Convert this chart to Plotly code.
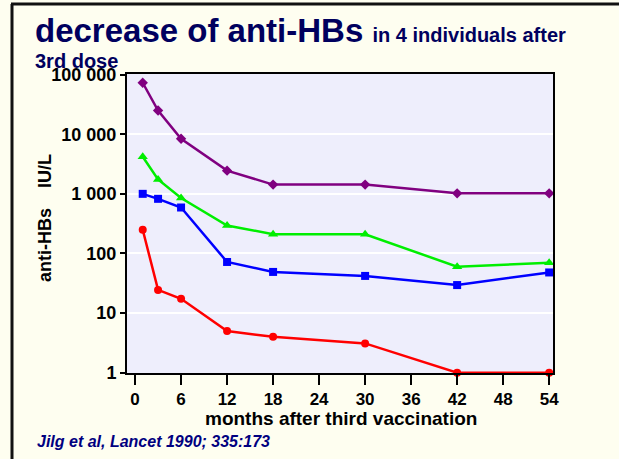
import plotly.graph_objects as go

months = [1, 3, 6, 12, 18, 30, 42, 54]
purple_vals = [73000, 25000, 8400, 2450, 1430, 1430, 1020, 1020]
green_vals = [4200, 1740, 850, 295, 210, 210, 60, 70]
blue_vals = [1000, 825, 590, 72, 49, 42, 29.5, 48]
red_vals = [250, 24.5, 17.4, 5, 4, 3.1, 1, 1]

x_ticks = [0, 6, 12, 18, 24, 30, 36, 42, 48, 54]
y_tickvals = [1, 10, 100, 1000, 10000, 100000]
y_ticktext = ["1", "10", "100", "1 000", "10 000", "100 000"]

W, H = 619, 459
L, R, T, B = 127, 66, 74, 86
PW, PH = W - L - R, H - T - B

def px(x):
    return (x - L) / PW

def py(y):
    return (H - B - y) / PH

fig = go.Figure()
series = [
    (purple_vals, "#800080", "diamond", 8),
    (green_vals, "#00EE00", "triangle-up", 9),
    (blue_vals, "#0000FF", "square", 8),
    (red_vals, "#FF0000", "circle", 8),
]
for vals, col, sym, sz in series:
    fig.add_trace(go.Scatter(
        x=months, y=vals, mode="lines+markers",
        line=dict(color=col, width=2.5),
        marker=dict(color=col, symbol=sym, size=sz),
        showlegend=False, cliponaxis=False,
    ))

navy = "#00005E"
fig.update_layout(
    width=W, height=H,
    margin=dict(l=L, r=R, t=T, b=B),
    paper_bgcolor="#FEFEF0",
    plot_bgcolor="#EEEEFC",
    font=dict(family="Arial, Liberation Sans, sans-serif", color="black"),
    xaxis=dict(
        range=[-1.05, 54.5], tickvals=x_ticks,
        ticks="outside", ticklen=10, tickwidth=2, tickcolor="black",
        showline=True, linecolor="black", linewidth=2, mirror=True,
        showgrid=False, zeroline=False,
        tickfont=dict(size=17, weight="bold", color="black"),
    ),
    yaxis=dict(
        type="log", range=[-0.005, 5.01],
        tickvals=y_tickvals, ticktext=y_ticktext,
        ticks="outside", ticklen=5, tickwidth=2, tickcolor="black",
        showline=True, linecolor="black", linewidth=2, mirror=True,
        showgrid=True, gridcolor="white", gridwidth=2,
        zeroline=False,
        tickfont=dict(size=18, weight="bold", color="black"),
    ),
    shapes=[
        dict(type="line", xref="paper", yref="paper",
             x0=px(11), x1=px(619), y0=py(4), y1=py(4),
             line=dict(color="#111111", width=3)),
        dict(type="line", xref="paper", yref="paper",
             x0=px(12), x1=px(12), y0=py(4), y1=py(459),
             line=dict(color="#111111", width=3)),
    ],
    annotations=[
        dict(xref="paper", yref="paper", x=px(33), y=py(30),
             xanchor="left", yanchor="middle", showarrow=False,
             text="decrease of anti-HBs <span style='font-size:20px'>in 4 individuals after</span>",
             font=dict(size=33, weight="bold", color=navy)),
        dict(xref="paper", yref="paper", x=px(33), y=py(61),
             xanchor="left", yanchor="middle", showarrow=False,
             text="3rd dose",
             font=dict(size=20, weight="bold", color=navy)),
        dict(xref="paper", yref="paper", x=px(45), y=py(218),
             xanchor="center", yanchor="middle", showarrow=False,
             textangle=-90,
             text="anti-HBs\u00a0\u00a0\u00a0\u00a0IU/L",
             font=dict(size=18, weight="bold", color="black")),
        dict(xref="paper", yref="paper", x=px(341), y=py(419),
             xanchor="center", yanchor="middle", showarrow=False,
             text="months after third vaccination",
             font=dict(size=19, weight="bold", color="black")),
        dict(xref="paper", yref="paper", x=px(35), y=py(441),
             xanchor="left", yanchor="middle", showarrow=False,
             text="<i>Jilg et al, Lancet 1990; 335:173</i>",
             font=dict(size=16, weight="bold", color="#000080")),
    ],
)

fig.write_html("out.html", config={"displayModeBar": False},
               post_script=["document.body.style.margin='0';"])
